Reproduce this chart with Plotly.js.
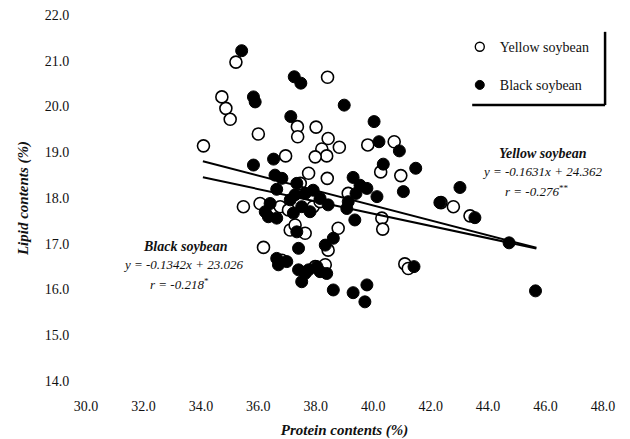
<!DOCTYPE html>
<html>
<head>
<meta charset="utf-8">
<script src="https://cdn.plot.ly/plotly-3.0.1.min.js"></script>
<style>html,body{margin:0;padding:0;background:#fff;}#chart{width:630px;height:439px;}</style>
</head>
<body>
<div id="chart"></div>
<script>
// Yellow soybean (open circles)
const yellowProtein = [35.22,38.41,34.73,34.87,35.02,37.36,37.37,38.01,36.00,34.09,38.43,38.82,38.21,38.38,37.98,36.95,39.81,40.73,40.26,40.96,38.40,39.13,40.30,40.33,38.78,38.43,38.33,41.10,41.22,42.79,42.36,43.37,35.48,36.06,36.18,36.82,37.75,36.76,37.05,37.91,37.11,37.28,37.63,37.98,37.46,38.15];
const yellowLipid   = [20.97,20.64,20.21,19.96,19.72,19.56,19.34,19.55,19.40,19.14,19.30,19.11,19.07,18.92,18.90,18.92,19.16,19.23,18.57,18.49,18.43,18.10,17.56,17.32,17.34,16.86,16.54,16.56,16.46,17.81,17.90,17.61,17.81,17.88,16.92,16.64,18.54,17.81,17.74,17.81,17.30,17.41,17.23,16.50,18.32,17.92];
// Black soybean (filled circles)
const blackProtein = [35.42,37.25,37.48,35.83,35.89,37.13,38.99,40.03,40.20,40.91,36.53,35.83,40.35,41.48,41.05,43.02,42.32,43.54,44.73,45.65,41.42,39.30,39.54,39.78,39.40,40.13,38.15,38.43,39.13,39.08,39.36,38.61,38.33,38.38,38.61,39.30,39.78,39.71,36.58,36.24,36.35,36.64,36.64,36.99,37.40,37.75,38.04,38.15,37.11,37.28,36.82,36.64,37.34,37.63,37.91,36.41,37.22,37.51,37.80,37.34,37.40,37.63,37.51,36.70];
const blackLipid   = [21.22,20.65,20.51,20.21,20.10,19.78,20.03,19.67,19.23,19.03,18.85,18.72,18.74,18.65,18.14,18.23,17.90,17.57,17.02,15.97,16.50,18.45,18.28,18.21,18.10,18.03,17.99,17.85,17.92,17.77,17.52,17.12,16.97,16.35,15.99,15.93,16.10,15.73,18.50,17.70,17.59,17.56,16.68,16.61,16.43,16.43,16.50,16.39,17.96,18.07,18.43,18.19,18.32,18.10,18.17,17.88,17.67,17.81,17.70,17.26,16.90,16.35,16.17,16.54];
// Regression lines from the printed equations: [yellow, black], drawn over the data's protein range
const fitSlope = [-0.1631, -0.1342];
const fitIntercept = [24.362, 23.026];
const fitXRange = [34.07, 45.68];

const xTicks = [30,32,34,36,38,40,42,44,46,48];
const xTickText = ['30.0','32.0','34.0','36.0','38.0','40.0','42.0','44.0','46.0','48.0'];
const yTicks = [14,15,16,17,18,19,20,21,22];
const yTickText = ['14.0','15.0','16.0','17.0','18.0','19.0','20.0','21.0','22.0'];

const serif = 'Liberation Serif, Times New Roman, serif';

const traces = [
  {x: yellowProtein, y: yellowLipid, type:'scatter', mode:'markers', showlegend:false,
   marker:{symbol:'circle', size:12, color:'#ffffff', line:{color:'#000', width:1.6}}},
  {x: blackProtein, y: blackLipid, type:'scatter', mode:'markers', showlegend:false,
   marker:{symbol:'circle', size:12, color:'#000000', line:{color:'#000', width:1}}}
];
for (let i = 0; i < 2; i++) {
  traces.push({x: fitXRange, y: fitXRange.map(v => fitSlope[i]*v + fitIntercept[i]), type:'scatter', mode:'lines',
    showlegend:false, hoverinfo:'skip', line:{color:'#000', width:2}});
}
// legend-only entries (smaller symbols, as in the reference key)
traces.push({x:[null], y:[null], type:'scatter', mode:'markers', name:'Yellow soybean', legendgroup:'a',
  marker:{symbol:'circle', size:9, color:'#fff', line:{color:'#000', width:1.4}}});
traces.push({x:[null], y:[null], type:'scatter', mode:'markers', name:'Black soybean', legendgroup:'b',
  marker:{symbol:'circle', size:9, color:'#000', line:{color:'#000', width:1}}});

const annFont = {family: serif, size: 13, color:'#111'};
const layout = {
  width:630, height:439,
  margin:{l:86, r:27, t:15, b:58},
  paper_bgcolor:'#fff', plot_bgcolor:'#fff',
  showlegend:true,
  legend:{x:0.723, y:0.956, xanchor:'left', yanchor:'top', bgcolor:'rgba(0,0,0,0)', borderwidth:0,
          font:{family:serif, size:14, color:'#111'}, tracegroupgap:17},
  xaxis:{range:[30,48], tickvals:xTicks, ticktext:xTickText, showgrid:false, zeroline:false, showline:false,
         ticks:'outside', ticklen:12, tickcolor:'rgba(0,0,0,0)', tickfont:{family:serif, size:14, color:'#111'},
         title:{text:'<b><i>Protein contents (%)</i></b>', font:{family:serif, size:15, color:'#111'}, standoff:13}},
  yaxis:{range:[14,22], tickvals:yTicks, ticktext:yTickText, showgrid:false, zeroline:false, showline:false,
         ticks:'outside', ticklen:13, tickcolor:'rgba(0,0,0,0)', tickfont:{family:serif, size:14, color:'#111'},
         title:{text:'<b><i>Lipid contents (%)</i></b>', font:{family:serif, size:15, color:'#111'}, standoff:12}},
  shapes:[
    {type:'line', xref:'paper', yref:'paper', x0:1.004, x1:1.004, y0:0.954, y1:0.754, line:{color:'#000', width:2.5}},
    {type:'line', xref:'paper', yref:'paper', x0:0.747, x1:1.004, y0:0.754, y1:0.754, line:{color:'#000', width:2.5}}
  ],
  annotations:[
    {x:45.92, y:18.97, xref:'x', yref:'y', text:'<b><i>Yellow soybean</i></b>', showarrow:false, font:{family:serif, size:14, color:'#111'}},
    {x:45.87, y:18.57, xref:'x', yref:'y', text:'<i>y = -0.1631x + 24.362</i>', showarrow:false, font:annFont},
    {x:45.69, y:18.16, xref:'x', yref:'y', text:'<i>r = -0.276</i><sup>**</sup>', showarrow:false, font:annFont},
    {x:33.45, y:16.95, xref:'x', yref:'y', text:'<b><i>Black soybean</i></b>', showarrow:false, font:{family:serif, size:14, color:'#111'}},
    {x:33.39, y:16.55, xref:'x', yref:'y', text:'<i>y = -0.1342x + 23.026</i>', showarrow:false, font:annFont},
    {x:33.27, y:16.11, xref:'x', yref:'y', text:'<i>r = -0.218</i><sup>*</sup>', showarrow:false, font:annFont}
  ]
};
Plotly.newPlot('chart', traces, layout, {staticPlot:true, displayModeBar:false});
</script>
</body>
</html>
